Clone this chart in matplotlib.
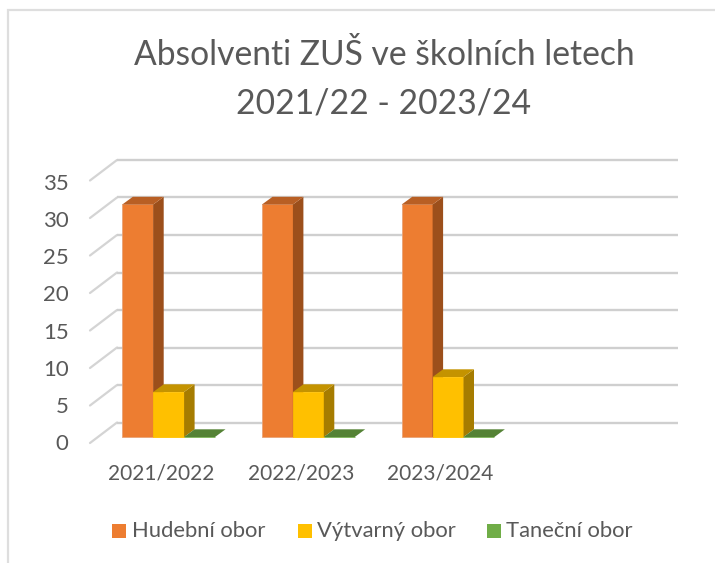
import matplotlib
matplotlib.use("Agg")
import matplotlib.pyplot as plt
import numpy as np

plt.rcParams['font.family'] = ['Lato', 'DejaVu Sans']

categories = ['2021/2022', '2022/2023', '2023/2024']
hudebni = [31, 31, 31]
vytvarny = [6, 6, 8]
tanecni = [0, 0, 0]
series_names = ['Hudební obor', 'Výtvarný obor', 'Taneční obor']
ticks = [0, 5, 10, 15, 20, 25, 30, 35]
title_lines = ['Absolventi ZUŠ ve školních letech', '2021/22 - 2023/24']

W, H = 715, 563
PX_CAT = 139.7       # pixels per category
PX_VAL = 7.5         # pixels per value unit
X0 = 122.3           # pixel of the first bar's left edge
Y0 = 437.0           # pixel of the front baseline
BAR = 30.9 / PX_CAT  # bar width, in category units
DX = 10.5 / PX_CAT   # bar depth
DY = 7.7 / PX_VAL
WALL_DX = 27.0 / PX_CAT
WALL_DY = 20.5 / PX_VAL
WALL_BASE = -6.0 / PX_VAL

fig = plt.figure(figsize=(W / 100, H / 100), dpi=100, facecolor='white')
ax = fig.add_axes([0, 0, 1, 1])
ax.set_xlim(-X0 / PX_CAT, (W - X0) / PX_CAT)
ax.set_ylim((Y0 - H) / PX_VAL, Y0 / PX_VAL)
ax.axis('off')


def px(x):
    return (np.asarray(x, dtype=float) - X0) / PX_CAT


def py(y):
    return (Y0 - np.asarray(y, dtype=float)) / PX_VAL


# chart-area border: left and top only
ax.plot(px([8, 8, W]), py([H, 10, 10]), color='#dedede', lw=1.6, zorder=1,
        solid_joinstyle='miter', solid_capstyle='butt')

# gridlines: the side wall and back wall
wall_left = px(90)
grid_right = px(677.7)
for t in ticks:
    yf = t + WALL_BASE
    yb = yf + WALL_DY
    ax.plot([wall_left, wall_left + WALL_DX], [yf, yb], color='#d4d4d4', lw=1.6,
            zorder=2, solid_capstyle='round')
    ax.plot([wall_left + WALL_DX, grid_right], [yb, yb], color='#cfcfcf', lw=1.7,
            zorder=2, solid_capstyle='butt')
    ax.text(px(68.5), t * 0.99 + py(450), str(t), ha='right', va='baseline',
            fontsize=16, color='#595959')

front = ['#ed7d31', '#ffc000', '#70ad47']
side = ['#9c4f1b', '#a67c00', '#486f2d']
top = ['#b85f24', '#c49300', '#548235']
legend_face = ['#ed7d31', '#ffc000', '#70ad47']


def bar3d(x, v, i):
    z = 3 + x * 0.01 + i * 0.001
    ax.bar(x, v, BAR, align='edge', color=front[i], zorder=z, lw=0.6,
           edgecolor='#e8a377' if i == 0 and v else front[i])
    ax.fill([x + BAR, x + BAR + DX, x + BAR + DX, x + BAR],
            [0, DY, v + DY, v], color=side[i], lw=0, zorder=z)
    ax.fill([x, x + DX, x + BAR + DX, x + BAR],
            [v, v + DY, v + DY, v], color=top[i], lw=0, zorder=z)


for c in range(len(categories)):
    for i, vals in enumerate([hudebni, vytvarny, tanecni]):
        bar3d(c + i * BAR, vals[c], i)
    ax.text(c + px(161), py(479), categories[c], ha='center', va='baseline',
            fontsize=15, color='#595959')

# title
for line, y in zip(title_lines, [65.5, 113.5]):
    ax.text(px(384), py(y), line, ha='center', va='baseline',
            fontsize=24.2, color='#595959')

# legend
lx = [112, 298, 487]
tx = [132, 317, 506]
for i, name in enumerate(series_names):
    ax.fill(px([lx[i], lx[i] + 14, lx[i] + 14, lx[i]]), py([524, 524, 538, 538]),
            color=legend_face[i], lw=0)
    ax.text(px(tx[i]), py(537), name, ha='left', va='baseline',
            fontsize=15.8, color='#595959')

fig.savefig('out.png', dpi=100, facecolor='white')
